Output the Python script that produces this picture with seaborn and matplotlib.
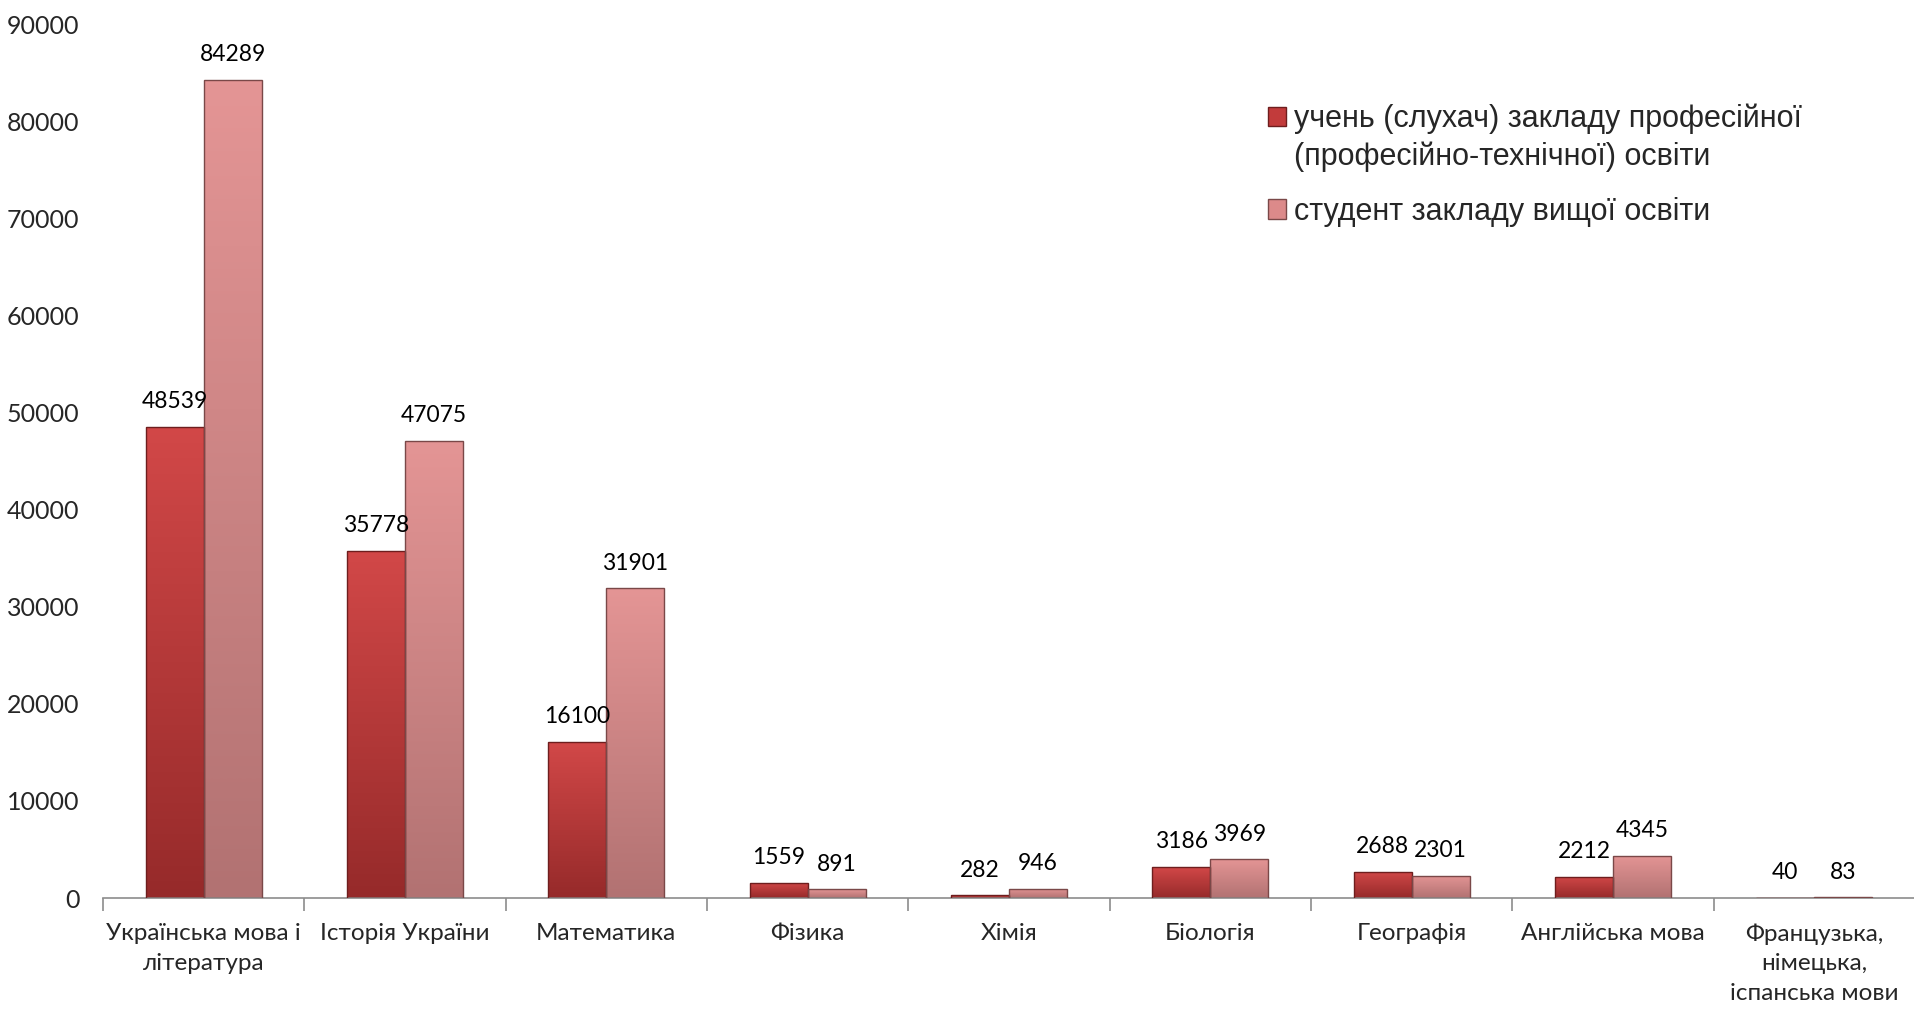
import numpy as np
import pandas as pd
import matplotlib
matplotlib.use("Agg")
import matplotlib.pyplot as plt
import matplotlib.colors as mcolors
from matplotlib.patches import Patch, Rectangle
from matplotlib.legend_handler import HandlerPatch
import seaborn as sns

# ---- data ----
categories = [
    "Українська мова і\nлітература",
    "Історія України",
    "Математика",
    "Фізика",
    "Хімія",
    "Біологія",
    "Географія",
    "Англійська мова",
    "Французька,\nнімецька,\nіспанська мови",
]
series_names = [
    "учень (слухач) закладу професійної\n(професійно-технічної) освіти",
    "студент закладу вищої освіти",
]
vocational = [48539, 35778, 16100, 1559, 282, 3186, 2688, 2212, 40]
university = [84289, 47075, 31901, 891, 946, 3969, 2301, 4345, 83]
y_ticks = [0, 10000, 20000, 30000, 40000, 50000, 60000, 70000, 80000, 90000]

colors = ["#C23B3B", "#DC8A8A"]
grad_top = ["#D24848", "#E49595"]
grad_bot = ["#962A2A", "#B27272"]
edge_col = ["#6E1E1E", "#7A4848"]

df = pd.DataFrame({
    "subject": categories * 2,
    "value": vocational + university,
    "group": [series_names[0]] * len(categories) + [series_names[1]] * len(categories),
})

sns.set_theme(style="white")
num_font = ["Lato", "DejaVu Sans"]
plt.rcParams["font.family"] = num_font

fig = plt.figure(figsize=(19.15, 10.09), dpi=100)
ax = fig.add_axes([0.0538, 0.110, 0.9462, 0.866])

sns.barplot(data=df, x="subject", y="value", hue="group", hue_order=series_names,
            order=categories, palette=colors, width=0.576, gap=0, saturation=1,
            legend=False, ax=ax)

# gradient fill per bar, clipped to the seaborn bar
for ci, cont in enumerate(ax.containers):
    cmap = mcolors.LinearSegmentedColormap.from_list(
        f"g{ci}", [grad_bot[ci], grad_top[ci]])
    grad = np.linspace(0, 1, 256).reshape(-1, 1)
    for p in cont.patches:
        x0, y0 = p.get_x(), p.get_y()
        w, h = p.get_width(), p.get_height()
        if h <= 0:
            continue
        im = ax.imshow(grad, extent=(x0, x0 + w, y0, y0 + h), origin="lower",
                       aspect="auto", cmap=cmap, zorder=2, interpolation="bilinear")
        im.set_clip_path(p)
        p.set_facecolor("none")
        p.set_edgecolor(edge_col[ci])
        p.set_linewidth(1.0)
        p.set_zorder(3)

for ci, cont in enumerate(ax.containers):
    vals = vocational if ci == 0 else university
    ax.bar_label(cont, labels=[str(v) for v in vals], padding=10.5,
                 fontsize=16.5, color="black", family=num_font)

ax.set_xlim(-0.5, len(categories) - 0.5)
ax.set_ylim(y_ticks[0], y_ticks[-1])
ax.set_yticks(y_ticks)
ax.set_yticklabels([str(t) for t in y_ticks], fontsize=18)
ax.tick_params(axis="y", length=0, pad=17)

n = len(categories)
ax.set_xticks(np.arange(n + 1) - 0.5)
ax.set_xticklabels([""] * (n + 1))
ax.set_xticks(np.arange(n), minor=True)
ax.set_xticklabels(categories, minor=True, fontsize=17.5, linespacing=1.5)
ax.tick_params(axis="x", which="major", length=9, width=1.2, color="#8C8C8C",
               direction="out", bottom=True)
ax.tick_params(axis="x", which="minor", length=0, pad=18)

for s in ["top", "right", "left"]:
    ax.spines[s].set_visible(False)
ax.spines["bottom"].set_color("#8C8C8C")
ax.spines["bottom"].set_linewidth(1.2)
ax.set_xlabel("")
ax.set_ylabel("")
ax.grid(False)

# legend: square aligned to first text line
leg_size = 22
leg_linespacing = 1.36
first_line_offset = 16  # points


def make_rect(yoff):
    def _f(legend, orig_handle, xdescent, ydescent, width, height, fontsize):
        return Rectangle((-xdescent, -ydescent + yoff), width, height)
    return _f


handles = [Patch(facecolor=colors[i], edgecolor=edge_col[i], linewidth=1)
           for i in range(2)]
handler_map = {
    handles[0]: HandlerPatch(patch_func=make_rect(first_line_offset)),
    handles[1]: HandlerPatch(patch_func=make_rect(0)),
}
leg = fig.legend(handles, series_names, loc="upper left", handler_map=handler_map,
                 bbox_to_anchor=(1268 / 1915, 1 - 103 / 1009), frameon=False,
                 prop={"family": ["Liberation Sans", "DejaVu Sans"], "size": leg_size},
                 handlelength=0.6, handleheight=0.6, handletextpad=0.25,
                 labelspacing=0.8, borderaxespad=0, borderpad=0)
for t in leg.get_texts():
    t.set_linespacing(leg_linespacing)

fig.savefig("out.png", dpi=100)
